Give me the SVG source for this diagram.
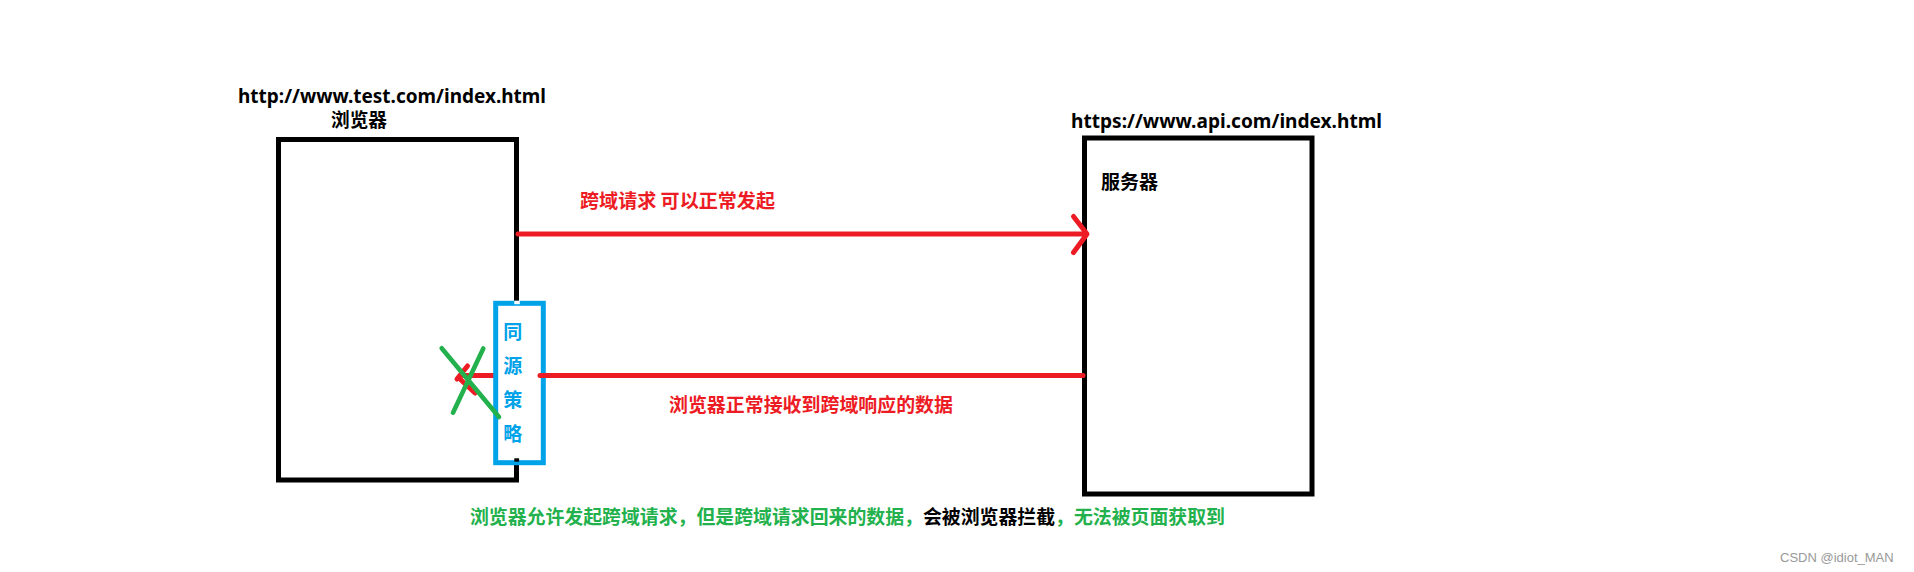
<svg xmlns="http://www.w3.org/2000/svg" width="1914" height="572" viewBox="0 0 1914 572">
  <style>
    .box { fill: none; stroke: #000; stroke-width: 5; }
    .url { font-family: "Noto Sans", "Liberation Sans", "Noto Sans CJK SC", sans-serif; font-weight: bold; font-size: 19px; fill: #000; }
    .cjk { font-family: "Noto Sans CJK SC", "Noto Sans", sans-serif; font-weight: bold; font-size: 19px; }
    .red { stroke: #ED1C24; stroke-width: 5; stroke-linecap: round; fill: none; }
    .green { stroke: #22B14C; stroke-width: 4.6; stroke-linecap: round; fill: none; }
  </style>
  <rect width="1914" height="572" fill="#fff"/>

  <g id="browser">
    <rect class="box" x="278.5" y="139.5" width="238" height="340.5"/>
    <text class="url" x="238" y="103" textLength="308" lengthAdjust="spacingAndGlyphs">http://www.test.com/index.html</text>
    <text class="cjk" x="331" y="127" fill="#000" textLength="56" lengthAdjust="spacingAndGlyphs">浏览器</text>
  </g>

  <g id="server">
    <rect class="box" x="1084.5" y="138" width="227.5" height="356"/>
    <text class="url" x="1071" y="127.5" textLength="311" lengthAdjust="spacingAndGlyphs">https://www.api.com/index.html</text>
    <text class="cjk" x="1101" y="188.5" fill="#000" textLength="57" lengthAdjust="spacingAndGlyphs">服务器</text>
  </g>

  <g id="connectors">
    <line class="red" x1="518" y1="234" x2="1086" y2="234"/>
    <polyline class="red" points="1073.5,216.5 1087,234 1073.5,252.5" stroke-linejoin="round"/>
    <line class="red" x1="463" y1="375.5" x2="495" y2="375.5"/>
    <line class="red" x1="467.5" y1="366" x2="457" y2="379"/>
    <line class="red" x1="460.5" y1="379.5" x2="475" y2="393"/>
    <text class="cjk" x="580" y="208" fill="#ED1C24" textLength="195" lengthAdjust="spacingAndGlyphs">跨域请求 可以正常发起</text>
    <text class="cjk" x="669" y="411.5" fill="#ED1C24" textLength="284" lengthAdjust="spacingAndGlyphs">浏览器正常接收到跨域响应的数据</text>
  </g>

  <g id="policy">
    <rect x="495.7" y="303.3" width="47.6" height="159.4" fill="#fff" stroke="#00A2E8" stroke-width="5"/>
    <rect x="514.3" y="300.7" width="5.5" height="3.5" fill="#fff"/>
    <rect x="514.3" y="458.3" width="4.8" height="3.4" fill="#000"/>
    <g class="cjk" fill="#00A2E8" font-size="18" text-anchor="middle">
      <text x="512.7" y="339">同</text>
      <text x="512.7" y="373">源</text>
      <text x="512.7" y="407">策</text>
      <text x="512.7" y="441">略</text>
    </g>
    <line class="red" x1="540" y1="375.5" x2="1083" y2="375.5"/>
  </g>

  <g id="blocked">
    <line class="green" x1="441.7" y1="348.3" x2="499" y2="417"/>
    <line class="green" x1="483.3" y1="348.5" x2="453" y2="412.7"/>
  </g>

  <g id="note">
    <text class="cjk" x="470" y="523.5" fill="#22B14C" textLength="755" lengthAdjust="spacingAndGlyphs">浏览器允许发起跨域请求，但是跨域请求回来的数据，<tspan fill="#000">会被浏览器拦截</tspan>，无法被页面获取到</text>
  </g>

  <text x="1780" y="562" font-family="Liberation Sans, Arial, sans-serif" font-size="13" fill="#999">CSDN @idiot_MAN</text>
</svg>
